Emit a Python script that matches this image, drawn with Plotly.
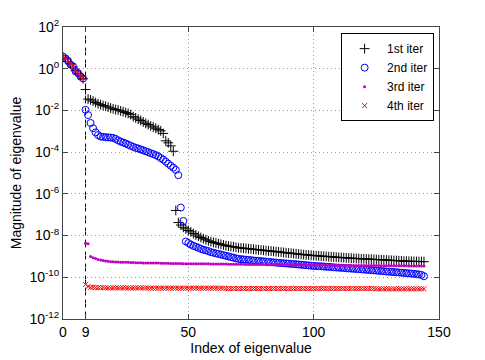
import plotly.graph_objects as go

# eigenvalue magnitudes, index 0..144
first_iter = [
    3.5, 3.0, 2.2, 1.7, 1.2, 0.8, 0.6, 0.45, 0.33, 1.0e-1,
    3.5e-2, 3.2e-2, 2.8e-2, 2.4e-2, 2.1e-2, 1.9e-2, 1.7e-2, 1.6e-2, 1.45e-2, 1.3e-2,
    1.2e-2, 1.1e-2, 1.05e-2, 9.5e-3, 8.7e-3, 7.9e-3, 7.2e-3, 6.3e-3, 5.0e-3, 4.4e-3,
    3.8e-3, 3.3e-3, 2.8e-3, 2.4e-3, 2.1e-3, 1.8e-3, 1.6e-3, 1.4e-3, 1.2e-3, 1.05e-3,
    7.9e-4, 3.5e-4, 2.8e-4, 2.0e-4, 1.1e-4, 1.6e-7, 4.2e-8, 3.2e-8, 2.5e-8, 2.1e-8,
    1.75e-8, 1.5e-8, 1.25e-8, 1.07e-8, 9.3e-9, 8.1e-9, 7.1e-9, 6.3e-9, 5.6e-9, 5.1e-9,
    4.7e-9, 4.4e-9, 4.1e-9, 3.8e-9, 3.55e-9, 3.3e-9, 3.15e-9, 3.0e-9, 2.9e-9, 2.75e-9,
    2.6e-9, 2.55e-9, 2.48e-9, 2.41e-9, 2.34e-9, 2.27e-9, 2.2e-9, 2.14e-9, 2.08e-9, 2.02e-9,
    1.96e-9, 1.9e-9, 1.85e-9, 1.8e-9, 1.75e-9, 1.7e-9, 1.65e-9, 1.6e-9, 1.55e-9, 1.5e-9,
    1.46e-9, 1.42e-9, 1.38e-9, 1.34e-9, 1.3e-9, 1.26e-9, 1.22e-9, 1.19e-9, 1.16e-9, 1.13e-9,
    1.1e-9, 1.08e-9, 1.06e-9, 1.04e-9, 1.02e-9, 1.0e-9, 9.8e-10, 9.6e-10, 9.4e-10, 9.2e-10,
    9.0e-10, 8.85e-10, 8.7e-10, 8.55e-10, 8.4e-10, 8.25e-10, 8.1e-10, 7.95e-10, 7.8e-10, 7.7e-10,
    7.6e-10, 7.5e-10, 7.4e-10, 7.3e-10, 7.2e-10, 7.1e-10, 7.0e-10, 6.9e-10, 6.8e-10, 6.7e-10,
    6.6e-10, 6.5e-10, 6.4e-10, 6.3e-10, 6.2e-10, 6.1e-10, 6.0e-10, 5.95e-10, 5.9e-10, 5.85e-10,
    5.8e-10, 5.75e-10, 5.7e-10, 5.65e-10, 5.6e-10,
]

second_iter = [
    3.8, 3.1, 2.4, 1.6, 1.3, 0.75, 0.62, 0.42, 0.34, 1.07e-2,
    6.0e-3, 2.5e-3, 1.4e-3, 8.9e-4, 6.6e-4, 5.6e-4, 5.4e-4, 5.2e-4, 5.1e-4, 5.0e-4,
    4.8e-4, 4.3e-4, 3.7e-4, 3.2e-4, 2.9e-4, 2.6e-4, 2.3e-4, 2.0e-4, 1.8e-4, 1.6e-4,
    1.5e-4, 1.35e-4, 1.23e-4, 1.1e-4, 1.0e-4, 8.9e-5, 8.1e-5, 7.2e-5, 6.3e-5, 5.2e-5,
    4.4e-5, 3.5e-5, 2.8e-5, 2.2e-5, 1.8e-5, 1.4e-5, 7.9e-6, 2.2e-7, 5.0e-8, 5.2e-9,
    4.4e-9, 3.7e-9, 3.2e-9, 2.9e-9, 2.6e-9, 2.3e-9, 2.1e-9, 1.95e-9, 1.8e-9, 1.6e-9,
    1.5e-9, 1.4e-9, 1.32e-9, 1.23e-9, 1.15e-9, 1.07e-9, 1.0e-9, 9.3e-10, 8.7e-10, 8.1e-10,
    7.6e-10, 7.4e-10, 7.2e-10, 7.0e-10, 6.8e-10, 6.6e-10, 6.4e-10, 6.25e-10, 6.1e-10, 5.95e-10,
    5.8e-10, 5.65e-10, 5.5e-10, 5.35e-10, 5.2e-10, 5.05e-10, 4.9e-10, 4.8e-10, 4.7e-10, 4.6e-10,
    4.5e-10, 4.4e-10, 4.3e-10, 4.2e-10, 4.1e-10, 4.0e-10, 3.9e-10, 3.8e-10, 3.7e-10, 3.6e-10,
    3.5e-10, 3.45e-10, 3.4e-10, 3.35e-10, 3.3e-10, 3.2e-10, 3.15e-10, 3.1e-10, 3.0e-10, 2.95e-10,
    2.9e-10, 2.85e-10, 2.8e-10, 2.7e-10, 2.65e-10, 2.6e-10, 2.55e-10, 2.5e-10, 2.45e-10, 2.4e-10,
    2.35e-10, 2.3e-10, 2.25e-10, 2.2e-10, 2.15e-10, 2.1e-10, 2.05e-10, 2.0e-10, 1.95e-10, 1.9e-10,
    1.86e-10, 1.82e-10, 1.78e-10, 1.74e-10, 1.7e-10, 1.66e-10, 1.62e-10, 1.58e-10, 1.54e-10, 1.5e-10,
    1.46e-10, 1.42e-10, 1.37e-10, 1.3e-10, 1.12e-10,
]

third_iter = [
    3.6, 3.0, 2.3, 1.7, 1.25, 0.78, 0.6, 0.44, 0.33, 4.3e-9,
    4.1e-9, 1.0e-9, 8.7e-10, 7.9e-10, 7.2e-10, 6.8e-10, 6.3e-10, 6.0e-10, 5.8e-10, 5.6e-10,
    5.5e-10, 5.4e-10, 5.4e-10, 5.3e-10, 5.3e-10, 5.2e-10, 5.2e-10, 5.1e-10, 5.1e-10, 5.0e-10,
    5.0e-10, 5.0e-10, 4.9e-10, 4.9e-10, 4.9e-10, 4.8e-10, 4.8e-10, 4.8e-10, 4.8e-10, 4.7e-10,
    4.7e-10, 4.7e-10, 4.7e-10, 4.6e-10, 4.6e-10, 4.6e-10, 4.6e-10, 4.6e-10, 4.5e-10, 4.5e-10,
    4.5e-10, 4.5e-10, 4.5e-10, 4.4e-10, 4.4e-10, 4.4e-10, 4.4e-10, 4.4e-10, 4.4e-10, 4.3e-10,
    4.3e-10, 4.3e-10, 4.3e-10, 4.3e-10, 4.3e-10, 4.3e-10, 4.2e-10, 4.2e-10, 4.2e-10, 4.2e-10,
    4.2e-10, 4.2e-10, 4.2e-10, 4.1e-10, 4.1e-10, 4.1e-10, 4.1e-10, 4.1e-10, 4.1e-10, 4.1e-10,
    4.1e-10, 4.0e-10, 4.0e-10, 4.0e-10, 4.0e-10, 4.0e-10, 4.0e-10, 4.0e-10, 4.0e-10, 4.0e-10,
    4.0e-10, 4.0e-10, 4.0e-10, 4.0e-10, 4.0e-10, 3.9e-10, 3.9e-10, 3.9e-10, 3.9e-10, 3.9e-10,
    3.9e-10, 3.9e-10, 3.9e-10, 3.9e-10, 3.9e-10, 3.9e-10, 3.8e-10, 3.8e-10, 3.8e-10, 3.8e-10,
    3.8e-10, 3.8e-10, 3.8e-10, 3.8e-10, 3.8e-10, 3.8e-10, 3.7e-10, 3.7e-10, 3.7e-10, 3.7e-10,
    3.7e-10, 3.7e-10, 3.7e-10, 3.7e-10, 3.7e-10, 3.7e-10, 3.7e-10, 3.6e-10, 3.6e-10, 3.6e-10,
    3.6e-10, 3.6e-10, 3.6e-10, 3.6e-10, 3.6e-10, 3.6e-10, 3.6e-10, 3.6e-10, 3.5e-10, 3.5e-10,
    3.5e-10, 3.5e-10, 3.5e-10, 3.5e-10, 3.5e-10,
]

fourth_iter = [
    3.7, 3.2, 2.5, 1.8, 1.3, 0.8, 0.65, 0.45, 0.35, 4.5e-11,
    3.6e-11, 3.3e-11, 3.3e-11, 3.2e-11, 3.2e-11, 3.2e-11, 3.2e-11, 3.1e-11, 3.1e-11, 3.1e-11,
    3.1e-11, 3.1e-11, 3.1e-11, 3.1e-11, 3.1e-11, 3.1e-11, 3.1e-11, 3.1e-11, 3.1e-11, 3.1e-11,
    3.1e-11, 3.1e-11, 3.1e-11, 3.1e-11, 3.0e-11, 3.0e-11, 3.0e-11, 3.0e-11, 3.0e-11, 3.0e-11,
    3.0e-11, 3.0e-11, 3.0e-11, 3.0e-11, 3.0e-11, 3.0e-11, 3.0e-11, 3.0e-11, 3.0e-11, 3.0e-11,
    3.0e-11, 3.0e-11, 3.0e-11, 3.0e-11, 3.0e-11, 3.0e-11, 3.0e-11, 3.0e-11, 3.0e-11, 3.0e-11,
    3.0e-11, 3.0e-11, 3.0e-11, 3.0e-11, 3.0e-11, 2.9e-11, 2.9e-11, 2.9e-11, 2.9e-11, 2.9e-11,
    2.9e-11, 2.9e-11, 2.9e-11, 2.9e-11, 2.9e-11, 2.9e-11, 2.9e-11, 2.9e-11, 2.9e-11, 2.9e-11,
    2.9e-11, 2.9e-11, 2.9e-11, 2.9e-11, 2.9e-11, 2.9e-11, 2.9e-11, 2.9e-11, 2.9e-11, 2.9e-11,
    2.9e-11, 2.9e-11, 2.9e-11, 2.9e-11, 2.9e-11, 2.9e-11, 2.9e-11, 2.9e-11, 2.9e-11, 2.9e-11,
    2.9e-11, 2.9e-11, 2.9e-11, 2.9e-11, 2.9e-11, 2.9e-11, 2.9e-11, 2.9e-11, 2.9e-11, 2.9e-11,
    2.9e-11, 2.9e-11, 2.9e-11, 2.9e-11, 2.9e-11, 2.9e-11, 2.9e-11, 2.9e-11, 2.9e-11, 2.9e-11,
    2.9e-11, 2.9e-11, 2.9e-11, 2.9e-11, 2.9e-11, 2.8e-11, 2.8e-11, 2.8e-11, 2.8e-11, 2.8e-11,
    2.8e-11, 2.8e-11, 2.8e-11, 2.8e-11, 2.8e-11, 2.8e-11, 2.8e-11, 2.8e-11, 2.8e-11, 2.8e-11,
    2.8e-11, 2.8e-11, 2.8e-11, 2.8e-11, 2.8e-11,
]

series_names = ['1st iter', '2nd iter', '3rd iter', '4th iter']
split_index = 9

x_ticks = [0, 9, 50, 100, 150]
y_ticks = [1e-12, 1e-10, 1e-8, 1e-6, 1e-4, 1e-2, 1e0, 1e2]
y_tick_text = ['10<sup>-12</sup>', '10<sup>-10</sup>', '10<sup>-8</sup>', '10<sup>-6</sup>',
               '10<sup>-4</sup>', '10<sup>-2</sup>', '10<sup>0</sup>', '10<sup>2</sup>']

markers = [
    dict(symbol='cross-thin', size=7, color='black', line=dict(width=1, color='black')),
    dict(symbol='circle-open', size=7, color='#0000ff', line=dict(width=1)),
    dict(symbol='circle', size=3, color='#c000c0', line=dict(width=0)),
    dict(symbol='x-thin', size=5, color='#ff0000', line=dict(width=1, color='#ff0000')),
]

fig = go.Figure()
for name, vals, mk in zip(series_names, [first_iter, second_iter, third_iter, fourth_iter], markers):
    fig.add_trace(go.Scatter(
        x=list(range(len(vals))), y=vals,
        mode='markers', name=name, marker=mk,
    ))

# dashed marker line at the split index
fig.add_shape(type='line', x0=split_index, x1=split_index, xref='x',
              y0=0, y1=1, yref='paper',
              line=dict(color='black', width=1, dash='8px,4px'), layer='below')

axis_common = dict(
    ticks='inside', ticklen=5, tickcolor='#444',
    showline=True, linecolor='#444', linewidth=1, mirror='ticks',
    showgrid=True, gridcolor='#999999', griddash='1px,3px', gridwidth=1,
    zeroline=False, automargin=False,
    tickfont=dict(size=14, color='black'),
)

fig.update_xaxes(range=[0, 150], tickvals=x_ticks,
                 title=dict(text='Index of eigenvalue', font=dict(size=14), standoff=4),
                 **axis_common)
fig.update_yaxes(type='log', range=[-12, 2], tickvals=y_ticks, ticktext=y_tick_text,
                 title=dict(text='Magnitude of eigenvalue', font=dict(size=14), standoff=4),
                 **axis_common)

fig.update_layout(
    width=485, height=360,
    margin=dict(l=63, r=46, t=27, b=41),
    paper_bgcolor='white', plot_bgcolor='white',
    font=dict(family='Liberation Sans, Arial, Helvetica, sans-serif', size=13, color='black'),
    legend=dict(x=0.987, y=0.979, xanchor='right', yanchor='top',
                bgcolor='white', bordercolor='black', borderwidth=1,
                font=dict(size=12), itemwidth=35),
)

# drop the default page margin so the figure sits at the window's corner
fig.write_html('out.html', config={'displayModeBar': False},
               post_script="document.body.style.margin='0';")
